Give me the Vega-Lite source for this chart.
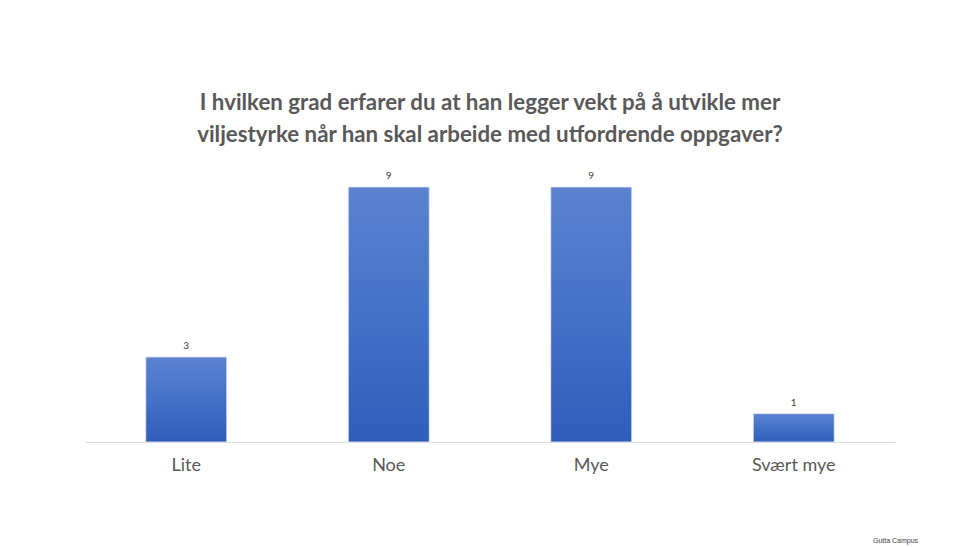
{
  "$schema": "https://vega.github.io/schema/vega-lite/v6.json",
  "autosize": "none",
  "width": 810,
  "height": 283.3,
  "padding": {"left": 85, "top": 158.7, "right": 66, "bottom": 105},
  "background": "#ffffff",
  "title": {
    "text": ["I hvilken grad erfarer du at han legger vekt på å utvikle mer", "viljestyrke når han skal arbeide med utfordrende oppgaver?"],
    "anchor": "middle",
    "font": "Lato",
    "fontSize": 22.3,
    "fontWeight": "bold",
    "color": "#595959",
    "lineHeight": 32,
    "offset": 12
  },
  "data": {
    "values": [
      {"kategori": "Lite", "antall": 3},
      {"kategori": "Noe", "antall": 9},
      {"kategori": "Mye", "antall": 9},
      {"kategori": "Svært mye", "antall": 1}
    ]
  },
  "encoding": {
    "x": {
      "field": "kategori",
      "type": "nominal",
      "sort": null,
      "scale": {"paddingInner": 0.6, "paddingOuter": 0.3},
      "axis": {
        "title": "Gutta Campus",
        "titleAnchor": "end",
        "titleAlign": "center",
        "titleFont": "Liberation Sans",
        "titleFontSize": 7,
        "titleFontWeight": "normal",
        "titleColor": "#404040",
        "titlePadding": 62,
        "labelAngle": 0,
        "labelFont": "Lato",
        "labelFontSize": 18,
        "labelColor": "#595959",
        "labelPadding": 14,
        "ticks": false,
        "domainColor": "#d9d9d9",
        "domainWidth": 1
      }
    },
    "y": {
      "field": "antall",
      "type": "quantitative",
      "scale": {"domain": [0, 10]},
      "axis": null
    }
  },
  "layer": [
    {
      "mark": {
        "type": "bar",
        "stroke": "#e4e8f0",
        "strokeWidth": 0.8,
        "color": {
          "gradient": "linear",
          "x1": 0, "y1": 0, "x2": 0, "y2": 1,
          "stops": [
            {"offset": 0, "color": "#5c82d0"},
            {"offset": 0.5, "color": "#4472c7"},
            {"offset": 1, "color": "#2f5db9"}
          ]
        }
      }
    },
    {
      "mark": {
        "type": "text",
        "dy": -11,
        "font": "Lato",
        "fontSize": 10,
        "color": "#404040"
      },
      "encoding": {
        "text": {"field": "antall", "type": "quantitative"}
      }
    }
  ],
  "config": {
    "view": {"stroke": null}
  }
}
